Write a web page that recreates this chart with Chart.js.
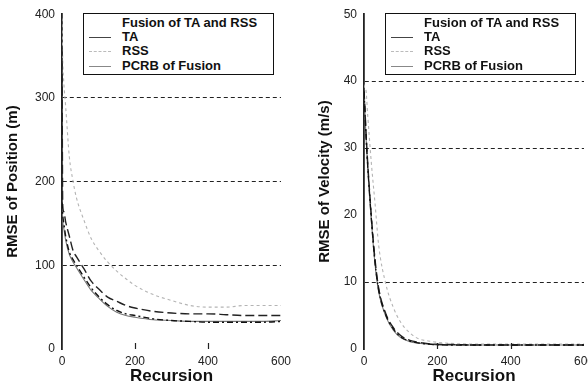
<!DOCTYPE html>
<html>
<head>
<meta charset="utf-8">
<script src="https://cdn.jsdelivr.net/npm/chart.js@4.4.0/dist/chart.umd.min.js"></script>
<style>
  html, body { margin: 0; padding: 0; background: #fff; width: 588px; height: 388px; overflow: hidden; }
  .wrap { position: absolute; top: 0; height: 388px; }
  .legend {
    position: absolute; top: 13px; width: 189px; height: 58px;
    border: 1.5px solid #111; background: #fff;
    font: bold 13px "Liberation Sans", Arial, sans-serif; color: #111;
    padding-top: 2px; box-sizing: content-box;
  }
  .row { position: relative; height: 14.2px; }
  .row span.t { position: absolute; left: 38px; top: 50%; transform: translateY(-52%); white-space: nowrap; }
  .row span.l { position: absolute; left: 5px; width: 22px; top: 50%; height: 0; }
</style>
</head>
<body>
<div class="wrap" style="left:0;width:294px"><canvas id="posChart" width="294" height="388"></canvas></div>
<div class="wrap" style="left:294px;width:300px"><canvas id="velChart" width="300" height="388"></canvas></div>
<div class="legend" style="left:83px" id="legPos"></div>
<div class="legend" style="left:385px" id="legVel"></div>
<script>
const recursion = [0, 2, 5, 10, 20, 30, 40, 60, 80, 100, 125, 150, 175, 200, 250, 300, 350, 400, 450, 500, 550, 600];

const seriesNames = ['Fusion of TA and RSS', 'TA', 'RSS', 'PCRB of Fusion'];

// RMSE of position (m)
const posFusion = [175, 160, 150, 135, 116, 107, 100, 86, 73, 63, 53, 46, 42, 40, 36, 34, 33, 32, 32, 32, 32, 33];
const posTA     = [360, 172, 164, 152, 135, 118, 110, 96, 81, 72, 62, 57, 52, 49, 45, 43, 42, 42, 41, 40, 40, 40];
const posRSS    = [395, 345, 318, 290, 230, 201, 180, 154, 132, 118, 104, 93, 84, 76, 65, 58, 52, 50, 50, 52, 52, 52];
const posPCRB   = [165, 152, 144, 130, 113, 104, 97, 83, 70, 61, 51, 44, 40, 38, 35, 34, 33, 33, 33, 33, 33, 34];

// RMSE of velocity (m/s)
const velFusion = [38.4, 36.2, 32.5, 27.5, 19.5, 13, 8.8, 5, 3.0, 1.8, 1.2, 0.9, 0.75, 0.65, 0.6, 0.6, 0.6, 0.6, 0.6, 0.6, 0.6, 0.6];
const velTA     = [38.6, 36.5, 32.9, 27.9, 19.9, 13.4, 9.1, 5.2, 3.2, 2.0, 1.3, 1.0, 0.8, 0.7, 0.65, 0.6, 0.6, 0.6, 0.6, 0.6, 0.6, 0.6];
const velRSS    = [39.5, 39, 38.8, 35, 27.8, 21.8, 15.5, 9.6, 6.2, 4.0, 2.4, 1.5, 1.2, 1.0, 0.8, 0.75, 0.75, 0.75, 0.75, 0.75, 0.75, 0.75];
const velPCRB   = [38.2, 36.0, 32.2, 27.2, 19.2, 12.7, 8.5, 4.8, 2.8, 1.7, 1.1, 0.85, 0.7, 0.6, 0.6, 0.6, 0.6, 0.6, 0.6, 0.6, 0.6, 0.6];

const posTicks = [0, 100, 200, 300, 400];
const velTicks = [0, 10, 20, 30, 40, 50];
const posGrid = [100, 200, 300];
const velGrid = [10, 30, 40];
const xTicks = [0, 200, 400, 600];

const font = '"Liberation Sans", Arial, sans-serif';
const styles = [
  { borderColor: '#111', borderWidth: 1.4, borderDash: [6, 3, 2, 3] },
  { borderColor: '#222', borderWidth: 1.4, borderDash: [9, 4] },
  { borderColor: '#b4b4b4', borderWidth: 1.1, borderDash: [3, 3] },
  { borderColor: '#777', borderWidth: 1.1, borderDash: [] }
];

function pts(vals) {
  return recursion.map((x, i) => ({ x: x, y: vals[i] }));
}

// small inward tick marks on the bottom and top edges
const innerTicks = {
  id: 'innerTicks',
  afterDraw(chart) {
    const { ctx, chartArea, scales } = chart;
    ctx.save();
    ctx.strokeStyle = '#222';
    ctx.lineWidth = 1.2;
    xTicks.forEach(v => {
      if (v <= 0 || v >= 600) return;
      const px = Math.round(scales.x.getPixelForValue(v)) + 0.5;
      ctx.beginPath();
      ctx.moveTo(px, chartArea.bottom);
      ctx.lineTo(px, chartArea.bottom - 6);
      ctx.moveTo(px, chartArea.top + 5);
      ctx.lineTo(px, chartArea.top + 11);
      ctx.stroke();
    });
    ctx.restore();
  }
};

function makeChart(id, series, yTicks, yGrid, yTitle, yAxisWidth, titlePad, padRight) {
  const yMax = yTicks[yTicks.length - 1];
  new Chart(document.getElementById(id), {
    type: 'line',
    data: {
      datasets: series.map((vals, i) => Object.assign({
        label: seriesNames[i],
        data: pts(vals),
        pointRadius: 0,
        fill: false,
        cubicInterpolationMode: 'monotone'
      }, styles[i]))
    },
    options: {
      responsive: false,
      animation: false,
      layout: { padding: { top: 8, right: padRight, bottom: 0, left: 0 } },
      plugins: { legend: { display: false }, tooltip: { enabled: false } },
      scales: {
        x: {
          type: 'linear', min: 0, max: 600,
          afterBuildTicks: s => { s.ticks = xTicks.map(v => ({ value: v })); },
          afterFit: s => { s.height = 39; s.paddingLeft = 0; s.paddingRight = 0; },
          border: { display: false },
          grid: { drawOnChartArea: false, drawTicks: false },
          ticks: { color: '#222', padding: 5, maxRotation: 0, font: { family: font, size: 12 } },
          title: { display: true, text: 'Recursion', color: '#111', padding: { top: 0, bottom: 1 },
                   font: { family: font, size: 17, weight: 'bold' } }
        },
        y: {
          min: 0, max: yMax,
          afterBuildTicks: s => { s.ticks = yTicks.map(v => ({ value: v })); },
          afterFit: s => { s.width = yAxisWidth; },
          border: { display: true, color: '#222', width: 1.8, dash: [4, 3] },
          grid: {
            drawTicks: false,
            color: c => (c.tick && yGrid.includes(c.tick.value)) ? '#222' : 'rgba(0,0,0,0)',
            lineWidth: 1
          },
          ticks: { color: '#222', padding: 7, font: { family: font, size: 12 } },
          title: { display: true, text: yTitle, color: '#111', padding: { top: titlePad, bottom: 0 },
                   font: { family: font, size: 15, weight: 'bold' } }
        }
      }
    },
    plugins: [innerTicks]
  });
}

makeChart('posChart', [posFusion, posTA, posRSS, posPCRB], posTicks, posGrid, 'RMSE of Position (m)', 62, 4, 13);
makeChart('velChart', [velFusion, velTA, velRSS, velPCRB], velTicks, velGrid, 'RMSE of Velocity (m/s)', 70, 22, 10);

// legends
const legendLines = ['none', '1.5px solid #444', '1.2px dashed #bbb', '1.2px solid #888'];
function buildLegend(id) {
  const el = document.getElementById(id);
  seriesNames.forEach((name, i) => {
    const row = document.createElement('div');
    row.className = 'row';
    const l = document.createElement('span');
    l.className = 'l';
    l.style.borderTop = legendLines[i];
    const t = document.createElement('span');
    t.className = 't';
    t.textContent = name;
    row.appendChild(l);
    row.appendChild(t);
    el.appendChild(row);
  });
}
buildLegend('legPos');
buildLegend('legVel');
</script>
</body>
</html>
